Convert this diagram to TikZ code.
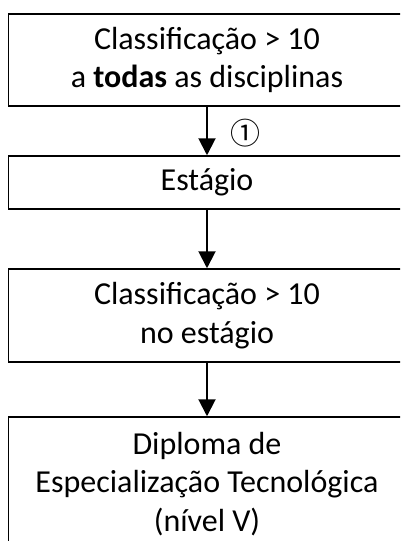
\documentclass[tikz,border=0pt]{standalone}
\usepackage{fontspec}
\setmainfont{Carlito}
\newfontfamily\symfont{Noto Sans CJK JP}
\usetikzlibrary{arrows.meta}
\begin{document}
\begin{tikzpicture}[x=1pt,y=-1pt,
  box/.style={draw=black, line width=1.5pt, minimum width=397pt, inner sep=0pt, align=center,
    font=\fontsize{32}{38.5}\selectfont},
  arr/.style={line width=2pt, -{Triangle[width=17pt,length=17pt]}}]
\path[use as bounding box, clip] (0,0) rectangle (400,541);
\fill[white] (0,0) rectangle (400,541);
\node[box, minimum height=92pt] (b1) at (207,60) {Classificação > 10\\a \textbf{todas} as disciplinas};
\node[box, minimum height=53pt] (b2) at (207,182.5) {Estágio};
\node[box, minimum height=93pt] (b3) at (207,315.5) {Classificação > 10\\no estágio};
\node[box, minimum height=134pt] (b4) at (207,484) {Diploma de\\Especialização Tecnológica\\(nível V)};
\draw[arr] (b1) -- node[pos=0.55, right=22pt, font=\symfont\fontsize{30}{30}\selectfont, inner sep=0pt] (n1) {①} (b2);
\draw[arr] (b2) -- (b3);
\draw[arr] (b3) -- (b4);
\end{tikzpicture}
\end{document}
